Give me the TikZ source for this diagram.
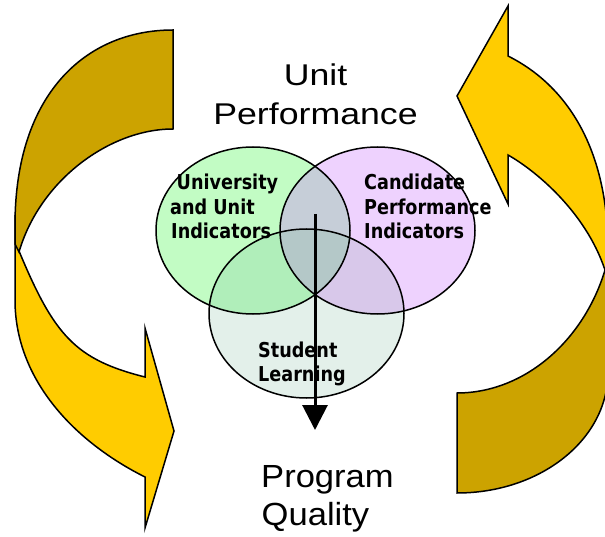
\documentclass[tikz,border=0pt]{standalone}
\usepackage{fontspec}
\usetikzlibrary{arrows.meta}
\newfontfamily\headfont{Liberation Sans}[FakeStretch=1.19]
\newfontfamily\footfont{Liberation Sans}[FakeStretch=1.08]
\newfontfamily\labelfont{DejaVu Sans}[FakeStretch=0.86]
\definecolor{arrowgold}{HTML}{FFCC00}
\definecolor{arrowolive}{HTML}{CCA300}
\definecolor{vgreen}{HTML}{C2FCC4}
\definecolor{vpurple}{HTML}{EED2FE}
\definecolor{vpale}{HTML}{E3F0EA}
\definecolor{vgp}{HTML}{C6CED8}
\definecolor{vgb}{HTML}{B0EEBA}
\definecolor{vpb}{HTML}{D8C8EA}
\definecolor{vall}{HTML}{B4C8C8}
\begin{document}
\begin{tikzpicture}[x=1pt,y=-1pt,
  band/.style={draw=black, line width=1.5pt, line join=miter},
  frontpart/.style={band, fill=arrowgold},
  backpart/.style={band, fill=arrowolive},
  rim/.style={draw=black, line width=1.5pt},
  headtxt/.style={inner sep=0pt, anchor=base, font=\headfont\fontsize{30}{36}\selectfont},
  foottxt/.style={inner sep=0pt, anchor=base west, font=\footfont\fontsize{32}{38}\selectfont},
  lbl/.style={inner sep=0pt, anchor=base west, font=\labelfont\bfseries\fontsize{20.5}{24}\selectfont}]
\useasboundingbox (0,0) rectangle (605,537);

% curved arrows on both sides
\begin{scope}
  \clip (0,0) rectangle (605,537);
  % left arrow: front (pointing right) then the shaded back on top
  \path[frontpart] (15,215) -- (15,300)
    .. controls (15,380) and (75,442) .. (145,477)
    -- (145,528) -- (174,431) -- (145,328) -- (145,377)
    .. controls (75,359.5) and (54,335) .. (19,251) -- cycle;
  \path[backpart] (173,30) -- (173,129)
    .. controls (110,129) and (40,180) .. (19,252)
    -- (15,244) -- (15,225)
    .. controls (15,95) and (85,30) .. (173,30) -- cycle;
  % right arrow: shaded back then front (pointing left)
  \path[backpart] (457,393)
    .. controls (525,393) and (584,340) .. (605,270)
    -- (608,282) -- (608,372)
    .. controls (608,440) and (540,493) .. (457,493) -- cycle;
  \path[frontpart] (457,96) -- (508,6) -- (508,56)
    .. controls (568,86) and (608,150) .. (608,250)
    -- (608,282) -- (605,270)
    .. controls (585,210) and (533,169) .. (508,155)
    -- (508,204) -- cycle;
\end{scope}

% Venn diagram
\coordinate (cG) at (253,230.5);
\coordinate (cP) at (377.5,230.5);
\coordinate (cB) at (306.5,313.5);
\fill[vgreen] (cG) ellipse [x radius=97, y radius=83.5];
\fill[vpurple] (cP) ellipse [x radius=97.5, y radius=83.5];
\fill[vpale] (cB) ellipse [x radius=97.5, y radius=84.5];
\begin{scope}
  \clip (cG) ellipse [x radius=97, y radius=83.5];
  \fill[vgp] (cP) ellipse [x radius=97.5, y radius=83.5];
  \fill[vgb] (cB) ellipse [x radius=97.5, y radius=84.5];
  \clip (cP) ellipse [x radius=97.5, y radius=83.5];
  \fill[vall] (cB) ellipse [x radius=97.5, y radius=84.5];
\end{scope}
\begin{scope}
  \clip (cP) ellipse [x radius=97.5, y radius=83.5];
  \clip (cB) ellipse [x radius=97.5, y radius=84.5];
  \fill[vpb] (-10,-10) rectangle (620,550);
  \clip (cG) ellipse [x radius=97, y radius=83.5];
  \fill[vall] (-10,-10) rectangle (620,550);
\end{scope}

\node[lbl] (uni1) at (176.5,190) {University};
\node[lbl] (uni2) at (170,214.5) {and Unit};
\node[lbl] (uni3) at (171,238.5) {Indicators};
\node[lbl] (cand1) at (364,190) {Candidate};
\node[lbl] (cand2) at (364,214.5) {Performance};
\node[lbl] (cand3) at (364,238.5) {Indicators};

\draw[rim] (cG) ellipse [x radius=97, y radius=83.5];
\draw[rim] (cP) ellipse [x radius=97.5, y radius=83.5];
\draw[rim] (cB) ellipse [x radius=97.5, y radius=84.5];

\node[lbl] (stud1) at (258,357) {Student};
\node[lbl] (stud2) at (258,381) {Learning};

% flow from unit performance down to program quality
\coordinate (flowtop) at (315,214);
\coordinate (flowend) at (315,430);
\draw[line width=3pt, -{Triangle[length=25pt,width=25pt]}] (flowtop) -- (flowend);

\node[headtxt] (head1) at (315.5,86) {Unit};
\node[headtxt] (head2) at (315.5,125) {Performance};
\node[foottxt] (foot1) at (261,487) {Program};
\node[foottxt] (foot2) at (261.5,525) {Quality};
\end{tikzpicture}
\end{document}
